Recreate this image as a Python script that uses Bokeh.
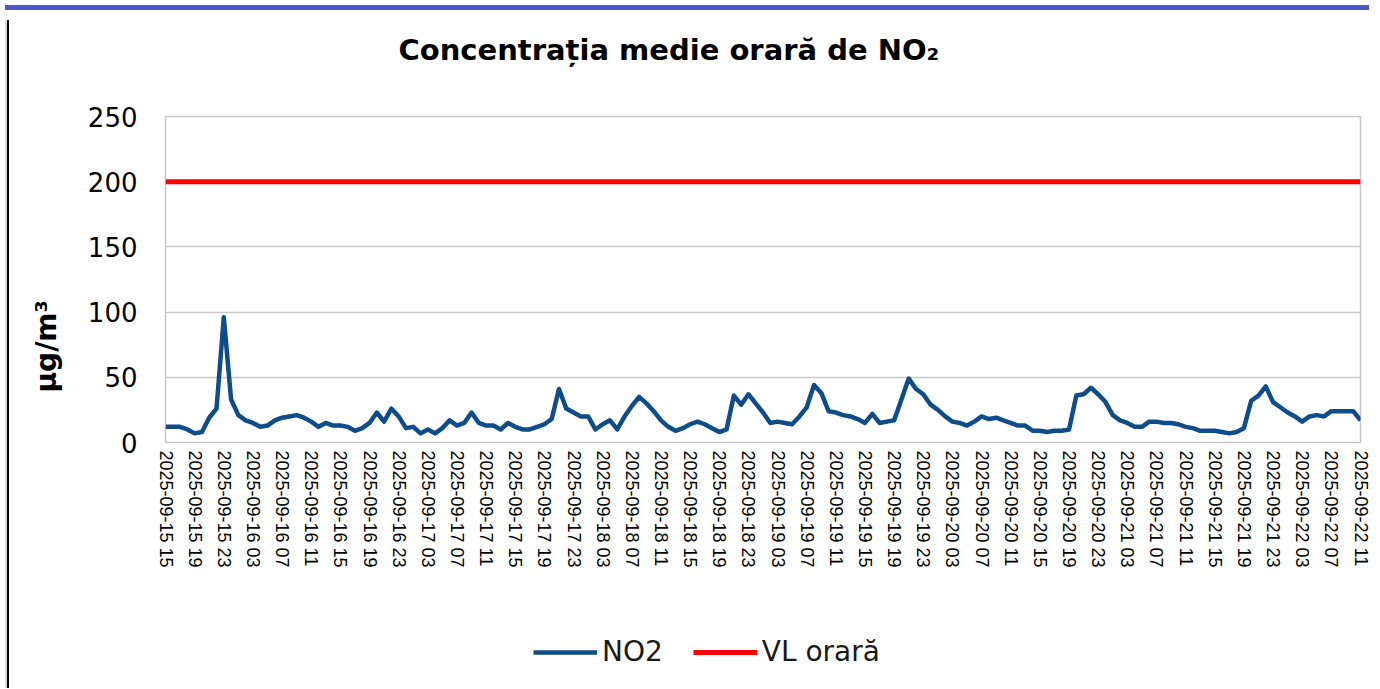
import pandas as pd
from bokeh.plotting import figure
from bokeh.models import FixedTicker, Title, Legend, LegendItem, Div, Range1d, ColumnDataSource
from bokeh.layouts import column, row
from bokeh.embed import file_html
from bokeh.resources import INLINE

# ---- data ----
hours = list(pd.date_range("2025-09-15 15:00", periods=165, freq="h").strftime("%Y-%m-%d %H"))
no2 = [12, 12, 12, 10, 7, 8, 19, 26, 96, 33,
       21, 17, 15, 12, 13, 17, 19, 20, 21, 19,
       16, 12, 15, 13, 13, 12, 9, 11, 15, 23,
       16, 26, 20, 11, 12, 7, 10, 7, 11, 17,
       13, 15, 23, 15, 13, 13, 10, 15, 12, 10,
       10, 12, 14, 18, 41, 26, 23, 20, 20, 10,
       14, 17, 10, 20, 28, 35, 30, 24, 17, 12,
       9, 11, 14, 16, 14, 11, 8, 10, 36, 29,
       37, 30, 23, 15, 16, 15, 14, 20, 27, 44,
       38, 24, 23, 21, 20, 18, 15, 22, 15, 16,
       17, 33, 49, 41, 37, 29, 25, 20, 16, 15,
       13, 16, 20, 18, 19, 17, 15, 13, 13, 9,
       9, 8, 9, 9, 10, 36, 37, 42, 37, 31,
       21, 17, 15, 12, 12, 16, 16, 15, 15, 14,
       12, 11, 9, 9, 9, 8, 7, 8, 11, 32,
       36, 43, 31, 27, 23, 20, 16, 20, 21, 20,
       24, 24, 24, 24, 17]
vl_orara = [200] * len(hours)
y_ticks = [0, 50, 100, 150, 200, 250]
label_step = 4

idx = list(range(len(hours)))
src = ColumnDataSource(dict(x=idx, no2=no2, vl=vl_orara))

FONT = "DejaVu Sans"
NO2_COLOR = "#0F4C8A"
VL_COLOR = "#FF0000"

W = 1360
H_MAIN, H_LEG = 573, 95
p = figure(width=W, height=H_MAIN, output_backend="svg", toolbar_location=None,
           x_range=Range1d(0, len(hours) - 1), y_range=Range1d(0, 250),
           min_border_left=151, min_border_right=14, min_border_top=101, min_border_bottom=146)
p.title_location = None

# title, pushed up by a blank (white) spacer between it and the plot area
p.add_layout(Title(text=".", text_font_size="2px", text_color="#ffffff", standoff=47), "above")
p.add_layout(Title(text="Concentrația medie orară de NO₂", text_font=FONT, text_font_size="29px",
                   text_font_style="bold", text_color="#000000", align="left", offset=233,
                   standoff=0), "above")

l1 = p.line("x", "no2", source=src, line_color=NO2_COLOR, line_width=4.5, line_join="round")
l2 = p.line("x", "vl", source=src, line_color=VL_COLOR, line_width=5)

# axes
p.yaxis.ticker = FixedTicker(ticks=y_ticks)
p.yaxis.major_label_text_font = FONT
p.yaxis.major_label_text_font_size = "26px"
p.yaxis.major_label_text_color = "#000000"
p.yaxis.axis_line_color = None
p.yaxis.major_tick_line_color = None
p.yaxis.minor_tick_line_color = None
p.yaxis.major_tick_out = 0
p.yaxis.major_tick_in = 0
p.yaxis.major_label_standoff = 28

xt = idx[::label_step]
p.xaxis.ticker = FixedTicker(ticks=xt)
p.xaxis.major_label_overrides = {i: hours[i] for i in xt}
p.xaxis.major_label_orientation = "vertical"
p.xaxis.major_label_text_font = "Liberation Sans"
p.xaxis.major_label_text_font_size = "18px"
p.xaxis.major_label_text_color = "#000000"
p.xaxis.axis_line_color = None
p.xaxis.major_tick_line_color = None
p.xaxis.minor_tick_line_color = None
p.xaxis.major_tick_out = 0
p.xaxis.major_tick_in = 0
p.xaxis.major_label_standoff = 8

p.xgrid.grid_line_color = None
p.ygrid.grid_line_color = "#c8c8c8"
p.ygrid.grid_line_width = 1.5
p.outline_line_color = "#c8c8c8"
p.outline_line_width = 1.5

# y axis title, with blank spacer
p.add_layout(Title(text=".", text_font_size="2px", text_color="#ffffff", standoff=19), "left")
p.add_layout(Title(text="µg/m³", text_font=FONT, text_font_size="28px", text_font_style="bold",
                   text_color="#000000", align="left", offset=50, standoff=0), "left")

# legend strip below the chart
pl = figure(width=W, height=H_LEG, output_backend="svg", toolbar_location=None,
            x_range=p.x_range, y_range=Range1d(1000, 1001),
            x_axis_location=None, y_axis_location=None, min_border=0)
pl.title_location = None
pl.grid.visible = False
pl.outline_line_color = None
g1 = pl.line("x", "no2", source=src, line_color=NO2_COLOR, line_width=4.5)
g2 = pl.line("x", "vl", source=src, line_color=VL_COLOR, line_width=5)
legend = Legend(items=[LegendItem(label="NO2", renderers=[g1]),
                       LegendItem(label="VL orară", renderers=[g2])],
                orientation="horizontal", location=(368, 15), glyph_width=64,
                padding=0, margin=0,
                label_text_font=FONT, label_text_font_size="28px", label_text_color="#1a1a1a",
                spacing=30, label_standoff=5, border_line_color=None, background_fill_alpha=0)
pl.add_layout(legend)

top_bar = Div(width=1364, height=5, styles={"background-color": "#4F55D0"})
left_bar = Div(width=4, height=H_MAIN + H_LEG,
               styles={"background": "linear-gradient(to right, #d9d9d9 50%, #000 50%)"})
layout = column(top_bar, row(left_bar, column(p, pl)))

open("out.html", "w").write(file_html(layout, INLINE))
